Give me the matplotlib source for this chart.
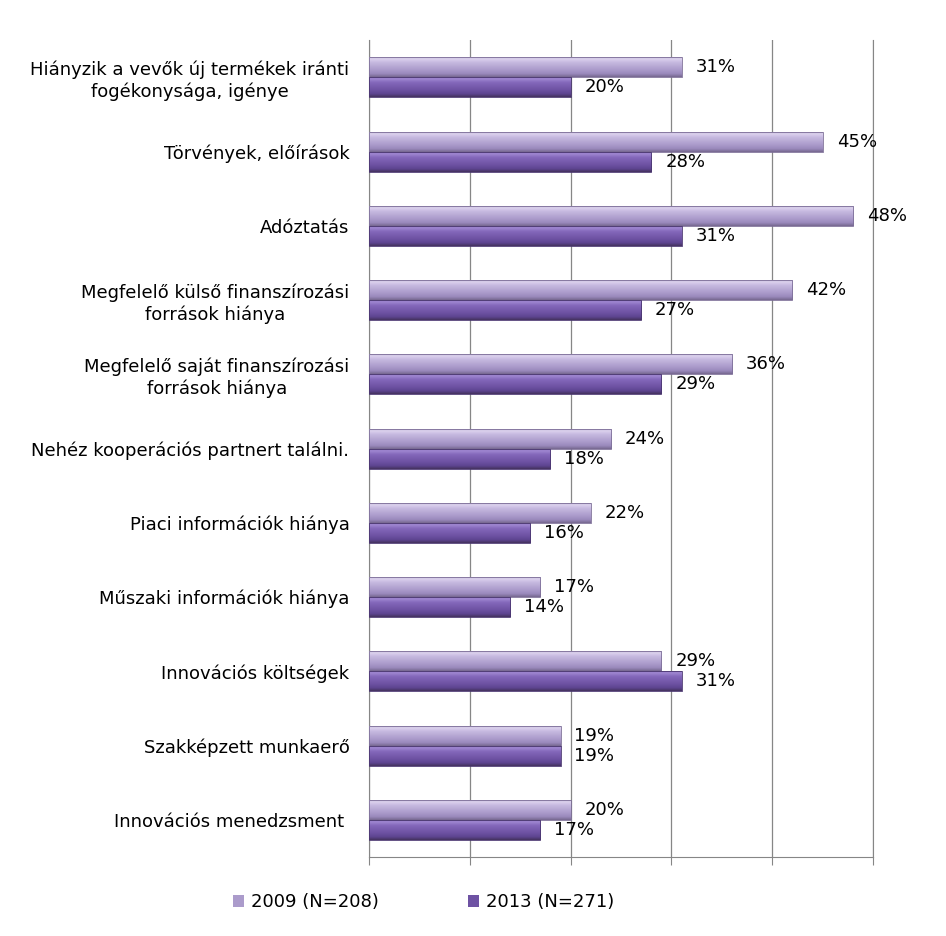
import numpy as np
import matplotlib.pyplot as plt
from matplotlib.colors import LinearSegmentedColormap

categories = [
    "Hiányzik a vevők új termékek iránti\nfogékonysága, igénye",
    "Törvények, előírások",
    "Adóztatás",
    "Megfelelő külső finanszírozási\nforrások hiánya",
    "Megfelelő saját finanszírozási\nforrások hiánya",
    "Nehéz kooperációs partnert találni.",
    "Piaci információk hiánya",
    "Műszaki információk hiánya",
    "Innovációs költségek",
    "Szakképzett munkaerő",
    "Innovációs menedzsment ",
]
v2009 = [31, 45, 48, 42, 36, 24, 22, 17, 29, 19, 20]
v2013 = [20, 28, 31, 27, 29, 18, 16, 14, 31, 19, 17]
series_names = ["2009 (N=208)", "2013 (N=271)"]

c2009 = "#ab9bcb"
c2013 = "#6e52a3"
# top -> bottom shading of the bevelled bars
grad2009 = LinearSegmentedColormap.from_list(
    "g09", [(0, "#a596c2"), (0.12, "#dcd2ee"), (0.3, "#c6b9e0"),
            (0.65, "#ab9bcb"), (0.85, "#9a89bc"), (1, "#76688f")])
grad2013 = LinearSegmentedColormap.from_list(
    "g13", [(0, "#7a60ae"), (0.12, "#a088d2"), (0.3, "#8468bb"),
            (0.65, "#6e52a3"), (0.85, "#5e4591"), (1, "#45325f")])

plt.rcParams['font.family'] = ['DejaVu Sans']

fig = plt.figure(figsize=(9.46, 9.36), dpi=100)
ax = fig.add_axes([0.390, 0.0844, 0.533, 0.8726])

y = np.arange(len(categories))
h = 0.27
b1 = ax.barh(y - h / 2, v2009, height=h, color=c2009, linewidth=0,
             label=series_names[0], zorder=3)
b2 = ax.barh(y + h / 2, v2013, height=h, color=c2013, linewidth=0,
             label=series_names[1], zorder=3)

grad = np.linspace(0, 1, 64).reshape(-1, 1)
for bars, cmap in ((b1, grad2009), (b2, grad2013)):
    for bar in bars:
        x0, y0 = bar.get_x(), bar.get_y()
        w, hh = bar.get_width(), bar.get_height()
        im = ax.imshow(grad, cmap=cmap, aspect="auto", zorder=3.5,
                       extent=(x0, x0 + w, y0 + hh, y0), interpolation="bilinear")
        im.set_clip_path(bar)

# thin outline over the shaded bars
ax.barh(y - h / 2, v2009, height=h, facecolor="none", edgecolor="#7d6f98",
        linewidth=0.6, zorder=4)
ax.barh(y + h / 2, v2013, height=h, facecolor="none", edgecolor="#4a3670",
        linewidth=0.6, zorder=4)

for vals, dy in ((v2009, -h / 2), (v2013, h / 2)):
    for i, v in enumerate(vals):
        ax.annotate(f"{v}%", (v, i + dy), xytext=(10, 0),
                    textcoords="offset points", va="center", ha="left",
                    fontsize=13, zorder=5)

ax.set_xlim(0, 50)
ax.set_ylim(len(categories) - 0.5, -0.5)
ax.set_xticks(np.arange(0, 51, 10))
ax.set_xticklabels([])
ax.tick_params(axis="x", length=6, color="#868686", direction="out")
ax.tick_params(axis="y", length=0, pad=14)
ax.set_yticks(y)
ax.set_yticklabels(categories, fontsize=13, multialignment="center")
ax.grid(axis="x", color="#868686", linewidth=0.9, zorder=0)
ax.spines["top"].set_visible(False)
for s in ("left", "bottom", "right"):
    ax.spines[s].set_color("#868686")

fig.legend(handles=[b1, b2], labels=series_names, loc="center",
           bbox_to_anchor=(0.448, 0.036), ncol=2, frameon=False,
           fontsize=13, handlelength=0.6, handleheight=0.6,
           columnspacing=4.95, handletextpad=0.4)

fig.savefig("out.png", dpi=100)
